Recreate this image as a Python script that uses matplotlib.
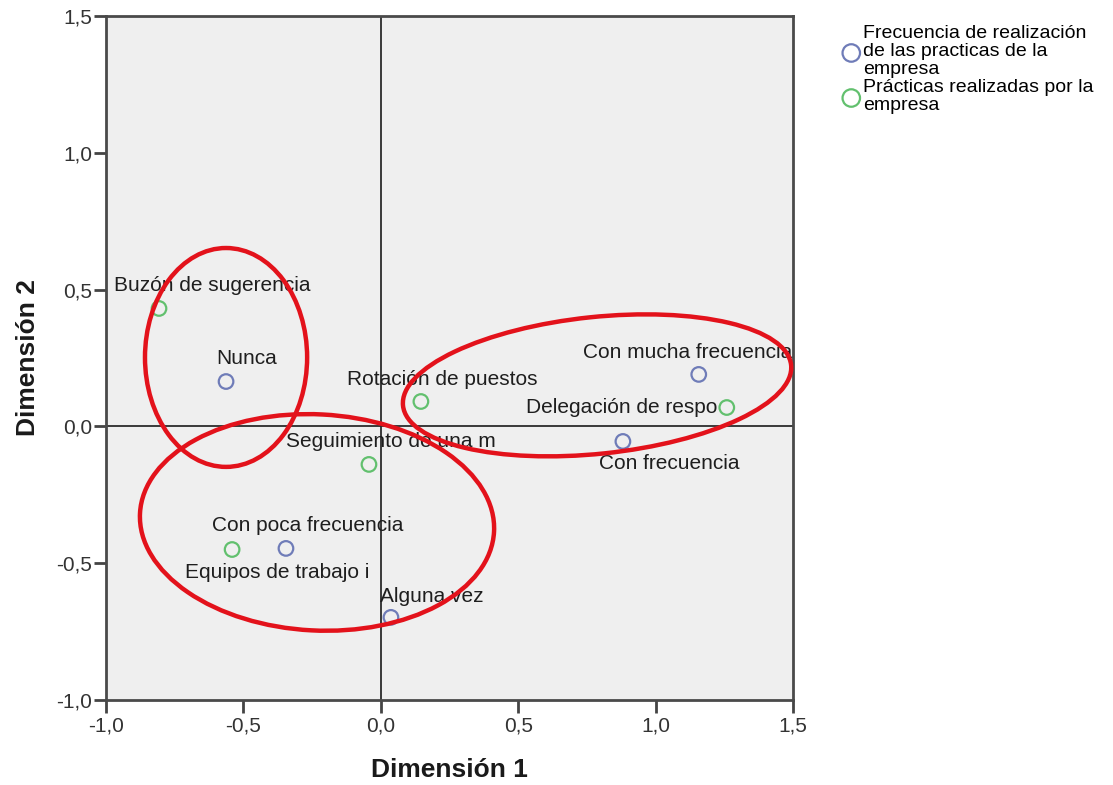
import matplotlib
matplotlib.use("Agg")
import matplotlib.pyplot as plt
from matplotlib.patches import Ellipse
from matplotlib.ticker import FuncFormatter

plt.rcParams['font.family'] = ['Liberation Sans', 'DejaVu Sans']

# category points: frequency of practices (blue)
freq_labels = ["Nunca", "Con mucha frecuencia", "Con frecuencia", "Con poca frecuencia", "Alguna vez"]
freq_x = [-0.563, 1.157, 0.881, -0.345, 0.037]
freq_y = [0.164, 0.190, -0.055, -0.446, -0.698]

# category points: practices done by the company (green)
prac_labels = ["Buzón de sugerencia", "Rotación de puestos", "Delegación de respo",
               "Seguimiento de una m", "Equipos de trabajo i"]
prac_x = [-0.807, 0.146, 1.259, -0.043, -0.541]
prac_y = [0.431, 0.091, 0.069, -0.139, -0.450]

legend_labels = ["Frecuencia de realización\nde las practicas de la\nempresa",
                 "Prácticas realizadas por la\nempresa"]
ticks = [-1.0, -0.5, 0.0, 0.5, 1.0, 1.5]

# label placement (offset in pixels, horizontal alignment)
freq_offsets = [((21, 23), 'center'), ((-11, 22), 'center'), ((46, -22), 'center'),
                ((22, 23), 'center'), ((41, 21), 'center')]
prac_offsets = [((53, 23), 'center'), ((21, 22), 'center'), ((-9, 0), 'right'),
                ((22, 23), 'center'), ((45, -23), 'center')]

blue = '#6f7cb8'
green = '#62c06e'

fig = plt.figure(figsize=(11.13, 7.85), dpi=100)
ax = fig.add_axes([0.0952, 0.1083, 0.6173, 0.8713])
ax.set_facecolor('#efefef')

ax.axhline(0, color='#2b2b2b', lw=1.3, zorder=1)
ax.axvline(0, color='#2b2b2b', lw=1.3, zorder=1)

ax.scatter(freq_x, freq_y, s=110, facecolors='none', edgecolors=blue, linewidths=1.6,
           zorder=3, label=legend_labels[0])
ax.scatter(prac_x, prac_y, s=110, facecolors='none', edgecolors=green, linewidths=1.6,
           zorder=3, label=legend_labels[1])

for lab, x, y, (off, ha) in zip(freq_labels, freq_x, freq_y, freq_offsets):
    ax.annotate(lab, (x, y), xytext=off, textcoords='offset pixels', ha=ha, va='center',
                fontsize=15, color='#1e1e1e', zorder=4)
for lab, x, y, (off, ha) in zip(prac_labels, prac_x, prac_y, prac_offsets):
    ax.annotate(lab, (x, y), xytext=off, textcoords='offset pixels', ha=ha, va='center',
                fontsize=15, color='#1e1e1e', zorder=4)

# hand-drawn red groupings
for (cx, cy), w, h, ang in [((-0.563, 0.252), 0.59, 0.80, 0),
                            ((0.787, 0.150), 1.42, 0.50, 6),
                            ((-0.232, -0.351), 1.29, 0.79, -3)]:
    ax.add_patch(Ellipse((cx, cy), w, h, angle=ang, fill=False, edgecolor='#e3121b',
                         lw=3.2, zorder=5, clip_on=False))

ax.set_xlim(-1.0, 1.5)
ax.set_ylim(-1.0, 1.5)
ax.set_xticks(ticks)
ax.set_yticks(ticks)
fmt = FuncFormatter(lambda v, p: f"{v:.1f}".replace('.', ','))
ax.xaxis.set_major_formatter(fmt)
ax.yaxis.set_major_formatter(fmt)
ax.tick_params(direction='out', length=9, width=2, color='#444444', labelsize=15,
               labelcolor='#333333', pad=1)
ax.tick_params(axis='x', pad=3)
for s in ax.spines.values():
    s.set_color('#4a4a4a')
    s.set_linewidth(2)

ax.set_xlabel("Dimensión 1", fontsize=19, fontweight='bold', labelpad=16, color='#1a1a1a')
ax.set_ylabel("Dimensión 2", fontsize=19, fontweight='bold', labelpad=12, color='#1a1a1a')

leg = ax.legend(loc='upper left', bbox_to_anchor=(0.750, 0.978), bbox_transform=fig.transFigure,
                frameon=False, fontsize=14, handletextpad=0.15, borderaxespad=0, labelspacing=0.05,
                markerscale=1.2, handlelength=0.9)
for t in leg.get_texts():
    t.set_linespacing(1.08)

fig.savefig('out.png', dpi=100)
